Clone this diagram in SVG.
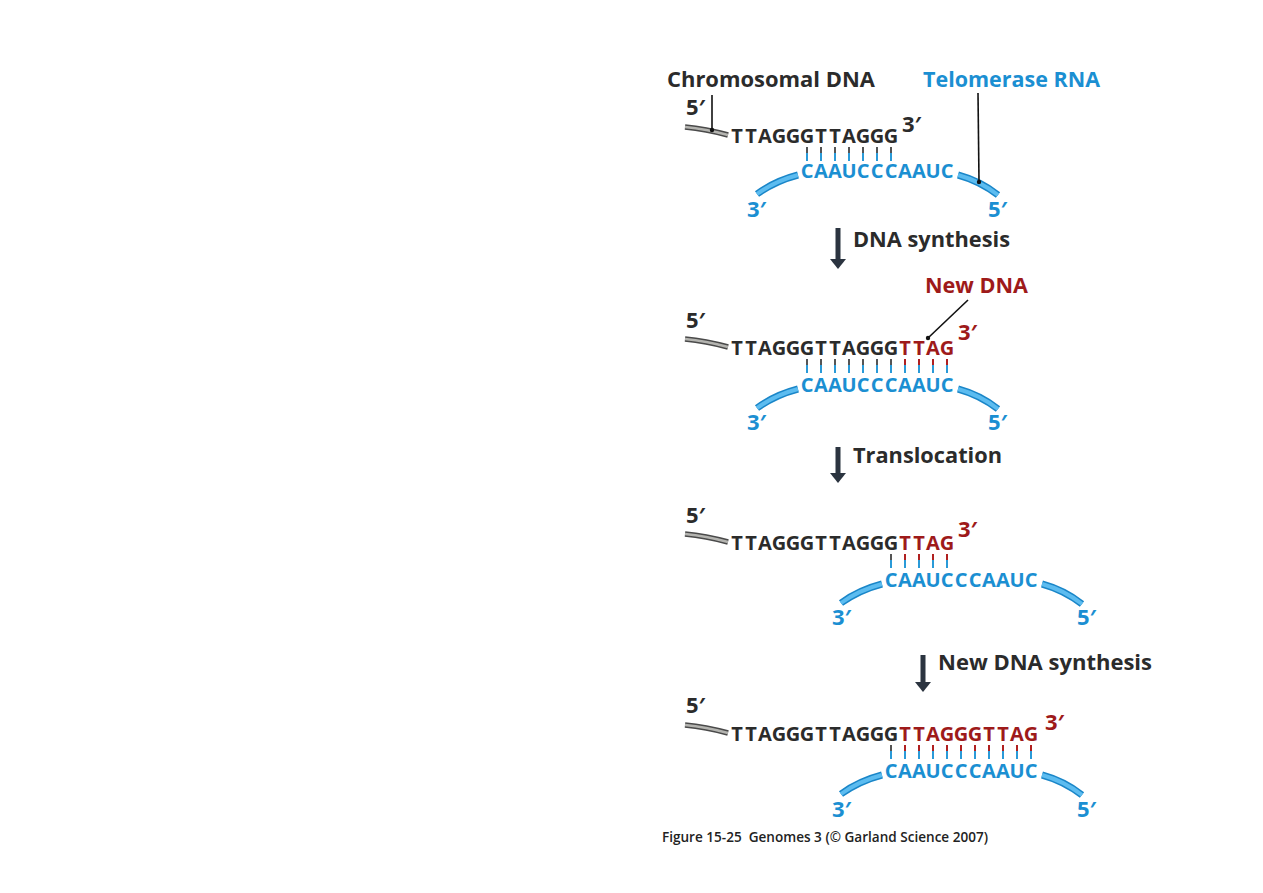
<svg xmlns="http://www.w3.org/2000/svg" width="1263" height="893" viewBox="0 0 1263 893">
<defs>
<style>
text{font-family:"Open Sans","Noto Sans","Liberation Sans",sans-serif;font-weight:700}
.dk{fill:#2b2b2b}
.bl{fill:#1b8fd2}
.rd{fill:#9e1a1a}
.lbl{font-size:22px}
.seq{font-size:20px;text-anchor:middle}
.pr{font-size:22px}
.strandO{fill:none;stroke:#4a4a4a;stroke-width:5.5;stroke-linecap:butt}
.strandI{fill:none;stroke:#b4b4b0;stroke-width:2.6}
.rnaO{fill:none;stroke:#1a86c8;stroke-width:7}
.rnaI{fill:none;stroke:#5cbcf0;stroke-width:4}
.tkU{stroke:#555;stroke-width:2}
.tkR{stroke:#b02020;stroke-width:2}
.tkB{stroke:#2a9ad8;stroke-width:2}
.lead{stroke:#111;stroke-width:1.6;fill:none}
.arrow{fill:#2b3440}
</style>
</defs>
<rect width="1263" height="893" fill="#ffffff"/>

<g id="labels">
<text class="lbl dk" x="667" y="87" textLength="208" lengthAdjust="spacingAndGlyphs">Chromosomal DNA</text>
<text class="lbl bl" x="923" y="87" textLength="177" lengthAdjust="spacingAndGlyphs">Telomerase RNA</text>
<text class="lbl rd" x="925" y="293" textLength="103" lengthAdjust="spacingAndGlyphs">New DNA</text>
<text class="lbl dk" x="853" y="247" textLength="157" lengthAdjust="spacingAndGlyphs">DNA synthesis</text>
<text class="lbl dk" x="853" y="463" textLength="149" lengthAdjust="spacingAndGlyphs">Translocation</text>
<text class="lbl dk" x="938" y="670" textLength="214" lengthAdjust="spacingAndGlyphs">New DNA synthesis</text>
<text x="662" y="842" xml:space="preserve" style="font-size:14px;font-weight:600" fill="#222" textLength="326" lengthAdjust="spacingAndGlyphs">Figure 15-25  Genomes 3 (© Garland Science 2007)</text>
</g>

<!-- Panel 1 -->
<g id="panel1">
<text class="pr dk" x="686" y="115">5′</text>
<path class="strandO" d="M685,127 Q706,129 728,135"/>
<path class="strandI" d="M685,127 Q706,129 728,135"/>
<text class="seq dk" x="737 751 765 779 793 807 821 835 849 863 877 891" y="143">TTAGGGTTAGGG</text>
<text class="pr dk" x="902" y="132">3′</text>
<g>
<path class="tkU" d="M807,147v6M821,147v6M835,147v6M849,147v6M863,147v6M877,147v6M891,147v6"/>
<path class="tkB" d="M807,153v8M821,153v8M835,153v8M849,153v8M863,153v8M877,153v8M891,153v8"/>
</g>
<text class="seq bl" x="807 821 835 849 863 877 891 905 919 933 947" y="178">CAAUCCCAAUC</text>
<path class="rnaO" d="M757,194 Q775,181 798,175"/><path class="rnaI" d="M757,194 Q775,181 798,175"/>
<path class="rnaO" d="M958,175 Q980,181 998,195"/><path class="rnaI" d="M958,175 Q980,181 998,195"/>
<text class="pr bl" x="747" y="217">3′</text>
<text class="pr bl" x="988" y="217">5′</text>
</g>

<!-- Panel 2 -->
<g id="panel2">
<text class="pr dk" x="686" y="328">5′</text>
<path class="strandO" d="M685,339 Q706,341 728,347"/>
<path class="strandI" d="M685,339 Q706,341 728,347"/>
<text class="seq dk" x="737 751 765 779 793 807 821 835 849 863 877 891" y="355">TTAGGGTTAGGG</text>
<text class="seq rd" x="905 919 933 947" y="355">TTAG</text>
<text class="pr rd" x="958" y="340">3′</text>
<path class="tkU" d="M807,359v6M821,359v6M835,359v6M849,359v6M863,359v6M877,359v6M891,359v6"/>
<path class="tkR" d="M905,359v6M919,359v6M933,359v6M947,359v6"/>
<path class="tkB" d="M807,365v8M821,365v8M835,365v8M849,365v8M863,365v8M877,365v8M891,365v8M905,365v8M919,365v8M933,365v8M947,365v8"/>
<text class="seq bl" x="807 821 835 849 863 877 891 905 919 933 947" y="392">CAAUCCCAAUC</text>
<path class="rnaO" d="M757,408 Q775,395 798,389"/><path class="rnaI" d="M757,408 Q775,395 798,389"/>
<path class="rnaO" d="M958,389 Q980,395 998,409"/><path class="rnaI" d="M958,389 Q980,395 998,409"/>
<text class="pr bl" x="747" y="430">3′</text>
<text class="pr bl" x="988" y="430">5′</text>
</g>

<!-- Panel 3 -->
<g id="panel3">
<text class="pr dk" x="686" y="523">5′</text>
<path class="strandO" d="M685,534 Q706,536 728,542"/>
<path class="strandI" d="M685,534 Q706,536 728,542"/>
<text class="seq dk" x="737 751 765 779 793 807 821 835 849 863 877 891" y="550">TTAGGGTTAGGG</text>
<text class="seq rd" x="905 919 933 947" y="550">TTAG</text>
<text class="pr rd" x="958" y="537">3′</text>
<path class="tkU" d="M891,554v6"/>
<path class="tkR" d="M905,554v6M919,554v6M933,554v6M947,554v6"/>
<path class="tkB" d="M891,560v8M905,560v8M919,560v8M933,560v8M947,560v8"/>
<text class="seq bl" x="891 905 919 933 947 961 975 989 1003 1017 1031" y="587">CAAUCCCAAUC</text>
<path class="rnaO" d="M841,603 Q859,590 882,584"/><path class="rnaI" d="M841,603 Q859,590 882,584"/>
<path class="rnaO" d="M1042,584 Q1064,590 1082,604"/><path class="rnaI" d="M1042,584 Q1064,590 1082,604"/>
<text class="pr bl" x="832" y="625">3′</text>
<text class="pr bl" x="1077" y="625">5′</text>
</g>

<!-- Panel 4 -->
<g id="panel4">
<text class="pr dk" x="686" y="713">5′</text>
<path class="strandO" d="M685,725 Q706,727 728,733"/>
<path class="strandI" d="M685,725 Q706,727 728,733"/>
<text class="seq dk" x="737 751 765 779 793 807 821 835 849 863 877 891" y="741">TTAGGGTTAGGG</text>
<text class="seq rd" x="905 919 933 947 961 975 989 1003 1017 1031" y="741">TTAGGGTTAG</text>
<text class="pr rd" x="1045" y="730">3′</text>
<path class="tkU" d="M891,745v6"/>
<path class="tkR" d="M905,745v6M919,745v6M933,745v6M947,745v6M961,745v6M975,745v6M989,745v6M1003,745v6M1017,745v6M1031,745v6"/>
<path class="tkB" d="M891,751v8M905,751v8M919,751v8M933,751v8M947,751v8M961,751v8M975,751v8M989,751v8M1003,751v8M1017,751v8M1031,751v8"/>
<text class="seq bl" x="891 905 919 933 947 961 975 989 1003 1017 1031" y="778">CAAUCCCAAUC</text>
<path class="rnaO" d="M841,794 Q859,781 882,775"/><path class="rnaI" d="M841,794 Q859,781 882,775"/>
<path class="rnaO" d="M1042,775 Q1064,781 1082,795"/><path class="rnaI" d="M1042,775 Q1064,781 1082,795"/>
<text class="pr bl" x="832" y="817">3′</text>
<text class="pr bl" x="1077" y="817">5′</text>
</g>

<g id="connectors">
<line class="lead" x1="712" y1="95" x2="712" y2="130"/><circle cx="712" cy="130" r="2.2" fill="#111"/>
<line class="lead" x1="978" y1="93" x2="979" y2="182"/><circle cx="979" cy="182" r="2.2" fill="#111"/>
<line class="lead" x1="968" y1="300" x2="928" y2="338"/><circle cx="928" cy="338" r="2.2" fill="#111"/>
<rect class="arrow" x="835.5" y="228" width="5" height="32"/><polygon class="arrow" points="830,259 846,259 838,269"/>
<rect class="arrow" x="835.5" y="447" width="5" height="27"/><polygon class="arrow" points="830,473 846,473 838,483"/>
<rect class="arrow" x="920.5" y="655" width="5" height="28"/><polygon class="arrow" points="915,682 931,682 923,692"/>
</g>
</svg>
